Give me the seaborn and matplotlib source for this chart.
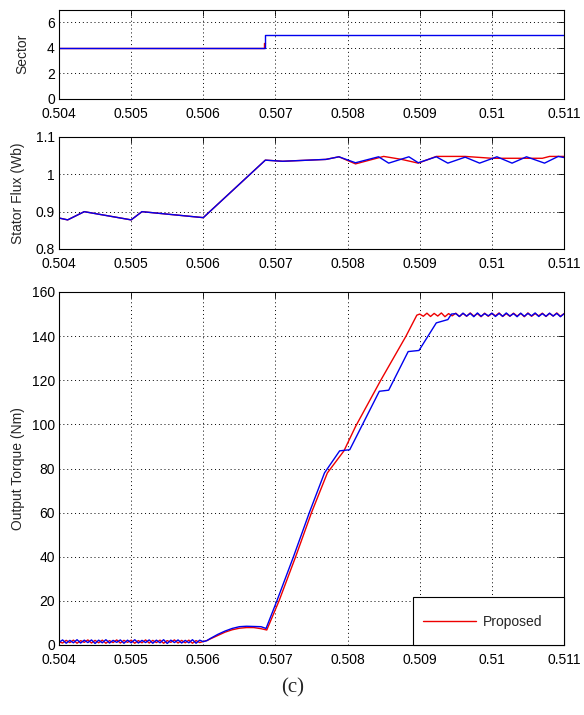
import numpy as np
import matplotlib
matplotlib.use("Agg")
import matplotlib.pyplot as plt
from matplotlib.patches import Rectangle
import seaborn as sns

# ---------------- data ----------------
x_ticks = [0.504, 0.505, 0.506, 0.507, 0.508, 0.509, 0.510, 0.511]
x_tick_labels = ['0.504', '0.505', '0.506', '0.507', '0.508', '0.509', '0.51', '0.511']

# Sector
sector_t_blue = [0.504, 0.50686, 0.50686, 0.511]
sector_blue = [4, 4, 5, 5]
sector_t_red = [0.504, 0.50684, 0.50684, 0.50686]
sector_red = [4, 4, 4.4, 4.4]
sector_ticks = [0, 2, 4, 6]

# Stator flux
flux_t_common = [0.504, 0.50412, 0.50435, 0.505, 0.50515, 0.506, 0.50686, 0.5071, 0.5077, 0.50788]
flux_common = [0.883, 0.878, 0.900, 0.878, 0.900, 0.884, 1.038, 1.035, 1.040, 1.047]
flux_t_blue_tail = [0.50811, 0.50843, 0.50857, 0.50885, 0.50898, 0.50923, 0.50939, 0.50963,
                    0.50983, 0.51007, 0.51028, 0.51048, 0.51073, 0.51092, 0.511]
flux_blue_tail = [1.031, 1.047, 1.030, 1.047, 1.031, 1.047, 1.030, 1.046,
                  1.030, 1.047, 1.030, 1.047, 1.030, 1.048, 1.045]
flux_t_red_tail = [0.50811, 0.5085, 0.50875, 0.50898, 0.50923, 0.50963, 0.5100, 0.5107, 0.5108, 0.511]
flux_red_tail = [1.028, 1.048, 1.040, 1.030, 1.048, 1.048, 1.043, 1.043, 1.048, 1.048]
flux_ticks = [0.8, 0.9, 1.0, 1.1]
flux_tick_labels = ['0.8', '0.9', '1', '1.1']

# Output torque
torque_low_blue = [1.2, 2.3, 0.8, 2.1, 1.0, 2.4, 0.9, 2.2, 1.1, 2.3, 0.7, 2.2, 1.0, 2.4,
                   0.9, 2.1, 1.2, 2.3, 0.8, 2.2, 1.0, 2.4, 0.9, 2.1, 1.1, 2.3, 0.8, 2.2,
                   1.0, 2.4, 0.7, 2.2, 1.1, 2.3, 0.9, 2.1, 1.0, 2.4, 0.8, 2.2, 1.5]
torque_low_red = [1.5, 0.9, 2.1, 1.1, 2.2, 0.8, 2.0, 1.2, 2.3, 0.9, 2.1, 1.0, 2.2, 0.8,
                  2.0, 1.1, 2.3, 0.9, 2.1, 1.2, 2.2, 0.8, 2.0, 1.0, 2.3, 0.9, 2.1, 1.1,
                  2.2, 0.8, 2.0, 1.2, 2.3, 0.9, 2.1, 1.0, 2.2, 0.8, 2.0, 1.1, 1.6]
torque_t_blue_mid = [0.50605, 0.5061, 0.5062, 0.5063, 0.5064, 0.5065, 0.5066, 0.5067, 0.5068,
                     0.50687, 0.50702, 0.50725, 0.50747, 0.50768, 0.50789, 0.50803, 0.50844,
                     0.50857, 0.50884, 0.50899, 0.50923, 0.50939, 0.50944]
torque_blue_mid = [2.0, 3.0, 4.8, 6.3, 7.5, 8.3, 8.5, 8.4, 8.3,
                   7.5, 20.0, 40.0, 60.0, 78.0, 88.0, 88.5, 115.0,
                   115.5, 133.0, 133.5, 146.0, 147.5, 150.0]
torque_t_red_mid = [0.50605, 0.5061, 0.5062, 0.5063, 0.5064, 0.5065, 0.5066, 0.5067, 0.5068,
                    0.50688, 0.50705, 0.50728, 0.5075, 0.50772, 0.50795, 0.50811, 0.50846,
                    0.50881, 0.50896]
torque_red_mid = [2.0, 2.8, 4.3, 5.8, 6.9, 7.6, 7.9, 7.9, 7.4,
                  6.8, 20.0, 40.0, 60.0, 78.0, 88.0, 99.0, 120.0,
                  140.0, 149.5]
torque_high_red = [150.0, 149.0, 150.4, 148.9, 150.3, 149.1, 150.5, 148.8, 150.2, 149.2,
                   150.4, 148.9, 150.3, 149.0, 150.5, 149.1, 150.2, 148.8, 150.4, 149.0,
                   150.3, 149.2, 150.5, 148.9, 150.2, 149.0, 150.4, 149.1, 150.3, 148.8,
                   150.5, 149.0, 150.2, 149.2, 150.4, 148.9, 150.3, 149.1, 150.5, 149.0, 150.2]
torque_high_blue = [150.2, 148.9, 150.4, 149.1, 150.3, 148.8, 150.5, 149.0, 150.2, 149.2,
                    150.4, 148.9, 150.3, 149.0, 150.5, 149.1, 150.2, 148.8, 150.4, 149.0,
                    150.3, 149.2, 150.5, 148.9, 150.2, 149.0, 150.4, 149.1, 150.3, 148.8, 150.1]
torque_ticks = [0, 20, 40, 60, 80, 100, 120, 140, 160]
legend_label = 'Proposed'

# ---------------- style ----------------
sns.set_theme(style='white')
plt.rcParams['font.family'] = ['Liberation Sans', 'DejaVu Sans']
plt.rcParams['axes.edgecolor'] = 'black'
plt.rcParams['axes.linewidth'] = 0.8

BLUE = '#0000ee'
RED = '#ee0000'
FS = 10

fig = plt.figure(figsize=(5.84, 7.15), dpi=100)
L, W = 59 / 584, 505 / 584
ax1 = fig.add_axes([L, 1 - 99 / 715, W, 89.5 / 715])
ax2 = fig.add_axes([L, 1 - 249 / 715, W, 112 / 715])
ax3 = fig.add_axes([L, 1 - 645 / 715, W, 353 / 715])

def draw(ax, t, y, color, label=None):
    sns.lineplot(x=t, y=y, ax=ax, color=color, lw=1.0, estimator=None, sort=False,
                 label=label, legend=False)

# Sector
draw(ax1, sector_t_red, sector_red, RED)
draw(ax1, sector_t_blue, sector_blue, BLUE)
ax1.set_ylim(0, 7)
ax1.set_yticks(sector_ticks)
ax1.set_yticklabels([str(v) for v in sector_ticks])
ax1.set_ylabel('Sector', fontsize=FS)
ax1.yaxis.set_label_coords(-0.058, 0.5)

# Flux
draw(ax2, flux_t_common + flux_t_red_tail, flux_common + flux_red_tail, RED)
draw(ax2, flux_t_common + flux_t_blue_tail, flux_common + flux_blue_tail, BLUE)
ax2.set_ylim(0.8, 1.1)
ax2.set_yticks(flux_ticks)
ax2.set_yticklabels(flux_tick_labels)
ax2.set_ylabel('Stator Flux (Wb)', fontsize=FS)
ax2.yaxis.set_label_coords(-0.068, 0.5)

# Torque
t_low = list(np.linspace(0.504, 0.506, len(torque_low_blue)))
t_high_red = list(np.linspace(0.509, 0.511, len(torque_high_red)))
t_high_blue = list(np.linspace(0.5095, 0.511, len(torque_high_blue)))
draw(ax3, t_low + torque_t_red_mid + t_high_red,
     torque_low_red + torque_red_mid + torque_high_red, RED, label=legend_label)
draw(ax3, t_low + torque_t_blue_mid + t_high_blue,
     torque_low_blue + torque_blue_mid + torque_high_blue, BLUE)
ax3.set_ylim(0, 160)
ax3.set_yticks(torque_ticks)
ax3.set_yticklabels([str(v) for v in torque_ticks])
ax3.set_ylabel('Output Torque (Nm)', fontsize=FS)
ax3.yaxis.set_label_coords(-0.068, 0.5)

# legend box (MATLAB style) + legend entry
box = Rectangle((0.700, 0.0), 0.300, 0.136, transform=ax3.transAxes,
                facecolor='white', edgecolor='black', linewidth=0.8, zorder=5, clip_on=False)
ax3.add_patch(box)
handles = [ax3.get_lines()[0]]
leg = ax3.legend(handles, [legend_label], loc='center left',
                 bbox_to_anchor=(0.7216, 0.066), borderaxespad=0, borderpad=0,
                 handlelength=3.8, handletextpad=0.5, fontsize=FS, frameon=False)
leg.set_zorder(6)

for ax in (ax1, ax2, ax3):
    ax.set_xlim(0.504, 0.511)
    ax.set_xticks(x_ticks)
    ax.set_xticklabels(x_tick_labels)
    ax.set_xlabel('')
    ax.tick_params(direction='in', length=4, width=0.6, top=True, right=True,
                   labelsize=FS, colors='black')
    ax.tick_params(axis='x', pad=6)
    ax.tick_params(axis='y', pad=3)
    ax.grid(True, color='black', linestyle=(0, (1, 3)), linewidth=0.7)
    for s in ax.spines.values():
        s.set_visible(True)
        s.set_color('black')

fig.text(293 / 584, 1 - 688 / 715, '(c)', ha='center', va='center',
         family=['Liberation Serif', 'DejaVu Serif'], fontsize=15)

fig.savefig('out.png', dpi=100)
